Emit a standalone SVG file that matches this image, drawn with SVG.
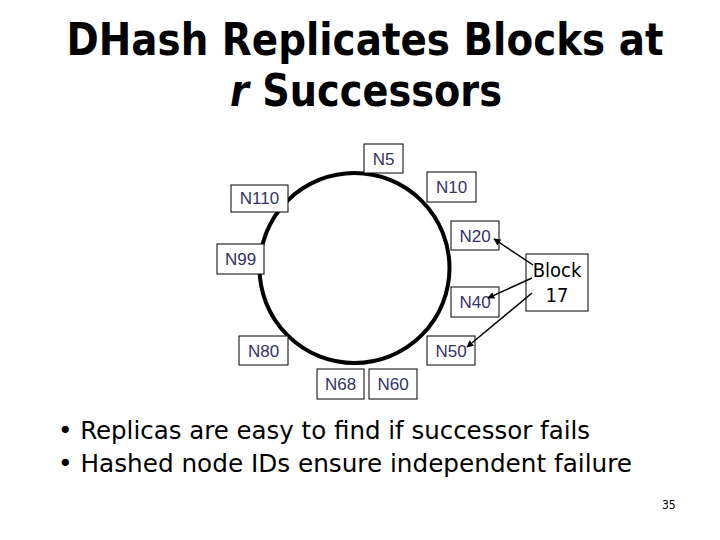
<svg xmlns="http://www.w3.org/2000/svg" width="720" height="540" viewBox="0 0 720 540">
<style>
.box{fill:#fff;stroke:#000;stroke-width:1}
.lbl{font-family:"Liberation Sans",Arial,sans-serif;font-size:17px;fill:#333366;text-anchor:middle}
.blk{font-family:"DejaVu Sans Condensed","DejaVu Sans",sans-serif;font-size:20px;fill:#000;text-anchor:middle}
.title{font-family:"DejaVu Sans",sans-serif;font-weight:bold;font-size:45px;fill:#000;text-anchor:middle}
.bul{font-family:"DejaVu Sans Condensed","DejaVu Sans",sans-serif;font-size:25px;fill:#000}
.arr{stroke:#000;stroke-width:1.5;fill:none;marker-end:url(#ah)}
</style>
<defs>
<marker id="ah" viewBox="0 0 10 10" refX="9" refY="5" markerWidth="7" markerHeight="7" orient="auto" markerUnits="userSpaceOnUse">
<path d="M0,0 L10,5 L0,10 z" fill="#000"/>
</marker>
</defs>
<rect width="720" height="540" fill="#fff"/>
<g id="title">
<text class="title" x="365" y="55" textLength="597" lengthAdjust="spacingAndGlyphs">DHash Replicates Blocks at</text>
<text class="title" x="366" y="106" textLength="272" lengthAdjust="spacingAndGlyphs"><tspan font-style="italic">r</tspan> Successors</text>
</g>
<g id="ring">
<circle cx="354.5" cy="268" r="95" fill="none" stroke="#000" stroke-width="4"/>
</g>
<g id="N5"><rect class="box" x="364" y="144" width="39" height="29"/><text class="lbl" x="383.5" y="164.5">N5</text></g>
<g id="N10"><rect class="box" x="427" y="172" width="49" height="30"/><text class="lbl" x="451.5" y="193">N10</text></g>
<g id="N110"><rect class="box" x="231" y="185" width="57" height="27"/><text class="lbl" x="259.5" y="204">N110</text></g>
<g id="N20"><rect class="box" x="451" y="221" width="48" height="29"/><text class="lbl" x="475" y="241.5">N20</text></g>
<g id="N99"><rect class="box" x="217" y="244" width="47" height="30"/><text class="lbl" x="240.5" y="265">N99</text></g>
<g id="N40"><rect class="box" x="451" y="287" width="48" height="30"/><text class="lbl" x="475" y="308">N40</text></g>
<g id="N80"><rect class="box" x="239" y="336" width="49" height="29"/><text class="lbl" x="263.5" y="356.5">N80</text></g>
<g id="N50"><rect class="box" x="427" y="336" width="48" height="29"/><text class="lbl" x="451" y="356.5">N50</text></g>
<g id="N68"><rect class="box" x="317" y="369" width="47" height="30"/><text class="lbl" x="340.5" y="390">N68</text></g>
<g id="N60"><rect class="box" x="369" y="369" width="48" height="30"/><text class="lbl" x="393" y="390">N60</text></g>
<g id="block17"><rect class="box" x="526" y="254" width="62" height="57"/><text class="blk" x="557" y="277">Block</text><text class="blk" x="557" y="302">17</text></g>
<g id="connectors">
<line class="arr" x1="533" y1="265" x2="494" y2="239"/>
<line class="arr" x1="532" y1="278" x2="488" y2="298"/>
<line class="arr" x1="532" y1="293" x2="467" y2="347"/>
</g>
<g id="bullets">
<text class="bul" x="58" y="439" textLength="532" lengthAdjust="spacingAndGlyphs">• Replicas are easy to find if successor fails</text>
<text class="bul" x="58" y="472" textLength="574" lengthAdjust="spacingAndGlyphs">• Hashed node IDs ensure independent failure</text>
</g>
<text x="662" y="509" font-family="DejaVu Sans Condensed,DejaVu Sans,sans-serif" font-size="12" fill="#000">35</text>
</svg>
